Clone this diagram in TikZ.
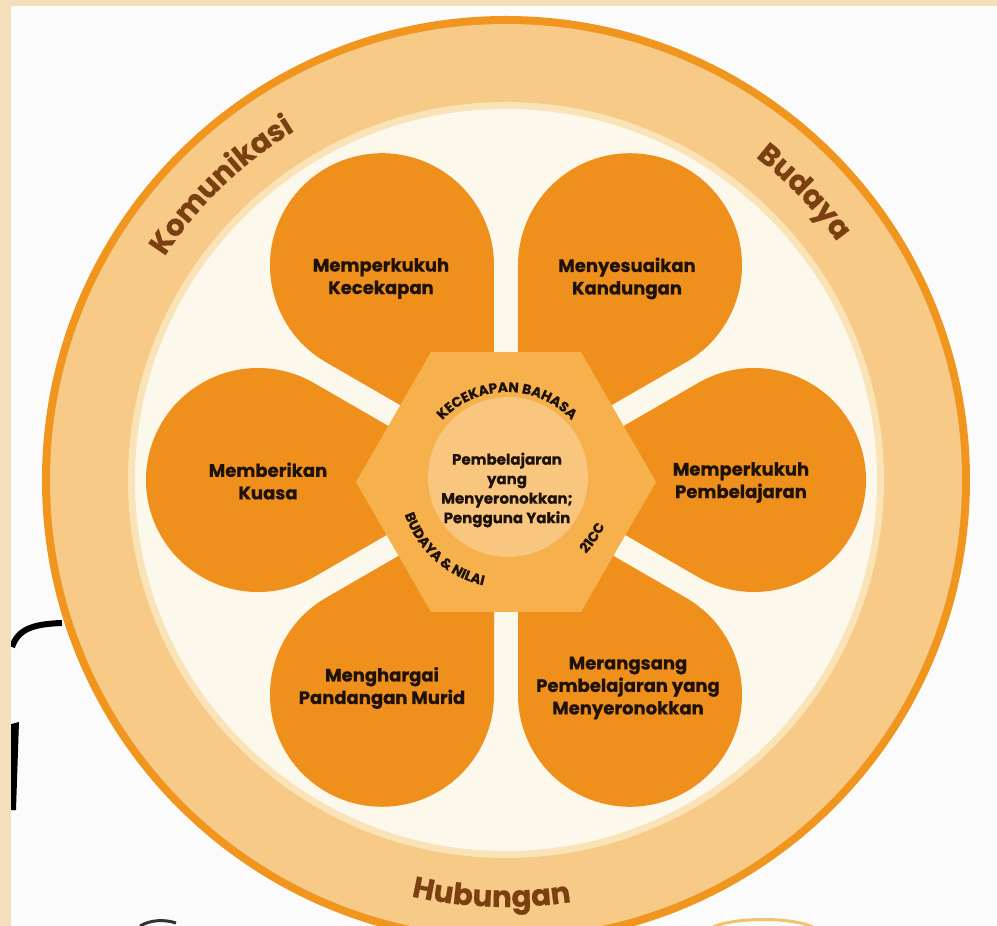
\documentclass[tikz,border=0pt]{standalone}
\usepackage{fontspec}
\setmainfont{Poppins}[BoldFeatures={FakeBold=0.6}]
\usetikzlibrary{decorations.text}
\definecolor{bgw}{HTML}{FBFBFB}
\definecolor{beige}{HTML}{F4DFBC}
\definecolor{ringedge}{HTML}{F0961F}
\definecolor{ringfill}{HTML}{F8CA88}
\definecolor{ringband}{HTML}{FBE3B8}
\definecolor{cream}{HTML}{FDF8EC}
\definecolor{petalcol}{HTML}{F0901C}
\definecolor{hexfill}{HTML}{F6B14D}
\definecolor{hubfill}{HTML}{F8C67E}
\definecolor{txt}{HTML}{1E1208}
\definecolor{ringtxt}{HTML}{7B4012}
\definecolor{fragorange}{HTML}{F3C36A}
\newcommand\ringlabelfont{\bfseries\fontsize{29.5}{29.5}\selectfont}
\newcommand\hexlabelfont{\bfseries\fontsize{13.8}{13.8}\selectfont}
\begin{document}
\begin{tikzpicture}[x=1pt,y=1pt,
  petalshape/.style={fill=petalcol},
  petaltext/.style={text=txt, align=center, font=\bfseries\fontsize{18}{22.5}\selectfont},
  hubtext/.style={text=txt, align=center, font=\bfseries\fontsize{15}{19.5}\selectfont},
  ringlabel/.style={decoration={text along path, text align=center, text color=ringtxt,
     text={|\ringlabelfont|#1}}, postaction={decorate}},
  hexlabel/.style={decoration={text along path, text align=center, text color=txt,
     text={|\hexlabelfont|#1}}, postaction={decorate}}
]
\useasboundingbox (-506,-446) rectangle (491,480);
\fill[bgw] (-506,-446) rectangle (491,480);
% fragments of neighbouring drawings
\coordinate (fa) at (-494,-167);
\coordinate (fb) at (-444,-143);
\draw[line width=6, black] (fa) .. controls (-488,-150) and (-475,-144) .. (fb);
\fill[black] (-498,-245) -- (-487,-242) -- (-490,-330) -- (-498,-330) -- cycle;
\draw[black!80, line width=3] (-366,-446) .. controls (-356,-440) and (-342,-439) .. (-330,-443);
\draw[fragorange, line width=3] (207,-447) .. controls (230,-437) and (285,-437) .. (307,-447);
\fill[beige] (-506,-446) rectangle (-495,480);
\fill[beige] (-506,474) rectangle (491,480);
% ring
\fill[ringedge] (0,0) circle (464);
\fill[ringfill] (0,0) circle (456);
\fill[ringband] (0,0) circle (378);
\fill[cream] (0,0) circle (371);
% petals
\foreach \a in {0,60,...,300}
  \fill[petalshape, rotate=\a] (24,0) -- (192,97) arc[start angle=120, end angle=-120, radius=112] -- cycle;
% hexagon and hub
\fill[hexfill, shift={(0,-2)}] (0:150) -- (60:150) -- (120:150) -- (180:150) -- (240:150) -- (300:150) -- cycle;
\fill[hubfill] (2,3) circle (80);
% petal texts
\node[petaltext] (p1) at (-125,201.5) {Memperkukuh\\Kecekapan};
\node[petaltext] (p2) at (121,201.5) {Menyesuaikan\\Kandungan};
\node[petaltext] (p3) at (-238,-1) {Memberikan\\Kuasa};
\node[petaltext] (p4) at (235,-2.5) {Memperkukuh\\Pembelajaran};
\node[petaltext] (p5) at (-124,-208) {Menghargai\\Pandangan Murid};
\node[petaltext] (p6) at (122,-208) {Merangsang\\Pembelajaran yang\\Menyeronokkan};
\node[hubtext] (hub) at (1,-10) {Pembelajaran\\yang\\Menyeronokkan;\\Pengguna Yakin};
% hexagon labels
\path[hexlabel={KECEKAPAN BAHASA}] (1,0) ++(150:88) arc[start angle=150, end angle=30, radius=88];
\path[hexlabel={BUDAYA {\&} NILAI}] (1,0) ++(175:108) arc[start angle=175, end angle=281, radius=108];
\path[hexlabel={21CC}] (1,0) ++(300:108) arc[start angle=300, end angle=352, radius=108];
% ring labels
\path[ringlabel={Komunikasi}] (0,0) ++(169:408) arc[start angle=169, end angle=99, radius=408];
\path[ringlabel={Budaya}] (0,0) ++(80:408) arc[start angle=80, end angle=8, radius=408];
\path[ringlabel={Hubungan}] (0,0) ++(238:427) arc[start angle=238, end angle=298, radius=427];
\end{tikzpicture}
\end{document}
